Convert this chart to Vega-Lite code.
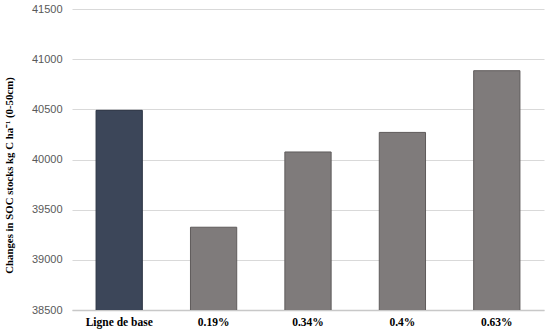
{
  "$schema": "https://vega.github.io/schema/vega-lite/v6.json",
  "autosize": "none",
  "width": 472,
  "height": 301,
  "padding": {"left": 72, "top": 9, "right": 6, "bottom": 21},
  "background": "white",
  "config": {"view": {"stroke": null}},
  "data": {"values": [
    {"scenario": "Ligne de base", "soc": 40490, "group": "base"},
    {"scenario": "0.19%", "soc": 39325, "group": "sc"},
    {"scenario": "0.34%", "soc": 40075, "group": "sc"},
    {"scenario": "0.4%", "soc": 40270, "group": "sc"},
    {"scenario": "0.63%", "soc": 40885, "group": "sc"}
  ]},
  "mark": {"type": "bar", "strokeWidth": 1, "clip": true},
  "encoding": {
    "x": {
      "field": "scenario", "type": "nominal", "sort": null,
      "scale": {"paddingInner": 0.51, "paddingOuter": 0.255},
      "axis": {
        "title": null, "labelAngle": 0, "ticks": false,
        "labelFont": "Liberation Serif", "labelFontWeight": "bold", "labelFontSize": 11.5,
        "labelColor": "#000000", "labelPadding": 6,
        "domainColor": "#c8c8c8", "domainWidth": 1.5
      }
    },
    "y": {
      "field": "soc", "type": "quantitative",
      "scale": {"domain": [38500, 41500], "zero": false, "nice": false},
      "axis": {
        "values": [38500, 39000, 39500, 40000, 40500, 41000, 41500],
        "format": "d",
        "domain": false, "ticks": false, "labelPadding": 10,
        "labelFont": "Liberation Sans", "labelFontSize": 11, "labelColor": "#595959",
        "gridColor": "#d9d9d9", "gridWidth": 1,
        "title": "Changes in SOC stocks kg C ha⁻¹ (0-50cm)",
        "titleFont": "Liberation Serif", "titleFontWeight": "bold", "titleFontSize": 10.8,
        "titleColor": "#000000", "titlePadding": 17, "titleY": 166
      }
    },
    "color": {
      "field": "group", "type": "nominal", "legend": null,
      "scale": {"domain": ["base", "sc"], "range": ["#3c4659", "#7f7b7b"]}
    },
    "stroke": {
      "field": "group", "type": "nominal", "legend": null,
      "scale": {"domain": ["base", "sc"], "range": ["#2a3242", "#5f5b5b"]}
    }
  }
}
